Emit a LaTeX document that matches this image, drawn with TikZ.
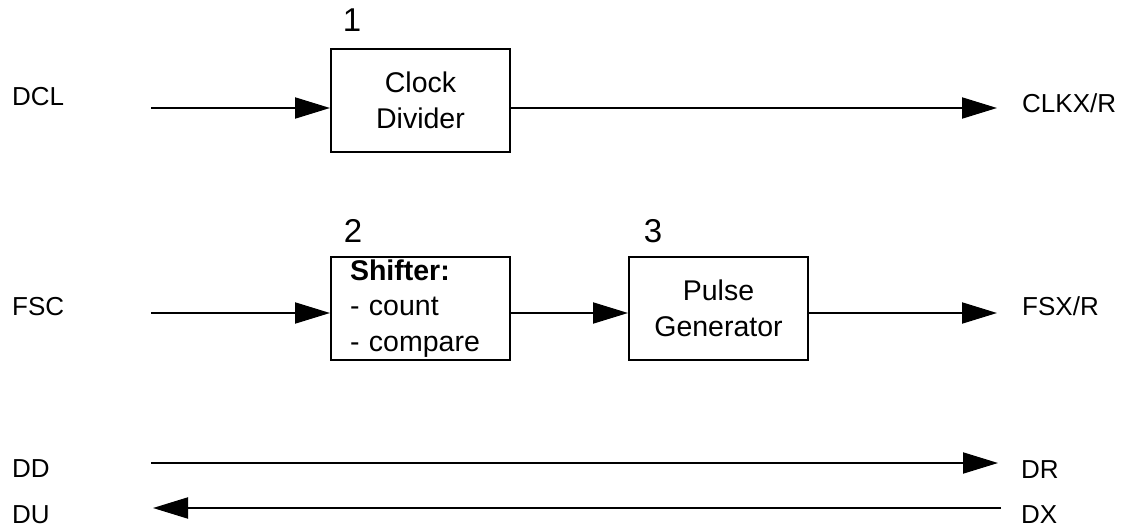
\documentclass[tikz,border=0pt]{standalone}
\usepackage{fontspec}
\setmainfont{Liberation Sans}
\usetikzlibrary{arrows.meta}
\begin{document}
\begin{tikzpicture}[x=1pt,y=-1pt,
  arr/.style={line width=2pt,-{Triangle[length=35pt,width=21pt]}},
  blk/.style={draw,line width=2pt,minimum width=179pt,minimum height=103pt,inner sep=0pt,anchor=north west},
  lbl/.style={font=\fontsize{26}{30}\selectfont,inner sep=0pt},
  num/.style={font=\fontsize{33}{38}\selectfont,inner sep=0pt,anchor=base},
  btxt/.style={font=\fontsize{28.5}{35.5}\selectfont}]
\useasboundingbox (0,0) rectangle (1125,527);
% boxes
\node[blk,btxt,align=center] (clk) at (330,48) {Clock\\Divider};
\node[blk,btxt,align=left,text width=141pt,inner xsep=19pt] (sh) at (330,256) {\textbf{Shifter:}\\- count\\- compare};
\node[blk,btxt,align=center] (pg) at (628,256) {Pulse\\Generator};
% numbers
\node[num] (n1) at (352,32) {1};
\node[num] (n2) at (353,242) {2};
\node[num] (n3) at (653,242) {3};
% labels
\node[lbl,anchor=base west] (dcl) at (12,106) {DCL};
\node[lbl,anchor=base west] (fsc) at (12,315) {FSC};
\node[lbl,anchor=base west] (dd) at (12,477) {DD};
\node[lbl,anchor=base west] (du) at (12,523) {DU};
\node[lbl,anchor=base west] (clkx) at (1022,113) {CLKX/R};
\node[lbl,anchor=base west] (fsx) at (1022,315) {FSX/R};
\node[lbl,anchor=base west] (dr) at (1021,478) {DR};
\node[lbl,anchor=base west] (dx) at (1021,523) {DX};
% connector coordinates
\coordinate (c1in) at (151,108);
\coordinate (c1out) at (997,108);
\coordinate (c2in) at (151,313);
\coordinate (c2out) at (997,313);
\coordinate (c3a) at (151,463);
\coordinate (c3b) at (998,463);
\coordinate (c4a) at (1001,508);
\coordinate (c4b) at (153,508);
% connectors
\draw[arr] (c1in) -- (clk.west |- c1in);
\draw[arr] (clk.east |- c1in) -- (c1out);
\draw[arr] (c2in) -- (sh.west |- c2in);
\draw[arr] (sh.east |- c2in) -- (pg.west |- c2in);
\draw[arr] (pg.east |- c2in) -- (c2out);
\draw[arr] (c3a) -- (c3b);
\draw[arr] (c4a) -- (c4b);
\end{tikzpicture}
\end{document}
